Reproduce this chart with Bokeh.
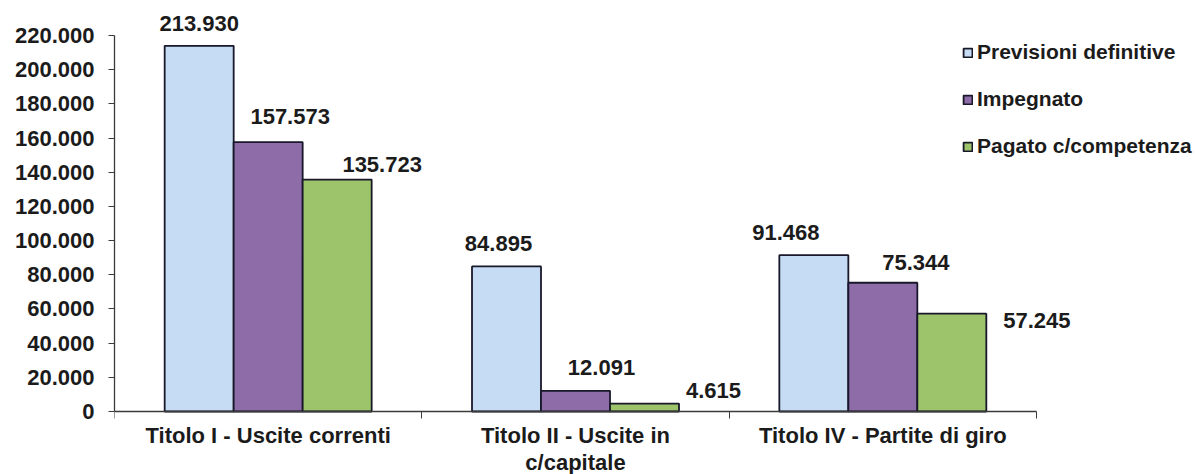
from bokeh.plotting import figure
from bokeh.models import Range1d, FixedTicker, Label, Legend, LegendItem
from bokeh.embed import file_html
from bokeh.resources import INLINE

categories = ["Titolo I - Uscite correnti", "Titolo II - Uscite in\nc/capitale", "Titolo IV - Partite di giro"]
series_names = ["Previsioni definitive", "Impegnato", "Pagato c/competenza"]
previsioni = [213930, 84895, 91468]
impegnato = [157573, 12091, 75344]
pagato = [135723, 4615, 57245]
y_ticks = list(range(0, 220001, 20000))

colors = ["#C6DCF5", "#8D6CA7", "#9DC46B"]
FONT = "Liberation Sans"
TXT = "#1b1b1b"
AX = "#3a3a3a"

# label offsets (px) relative to bar top centre: [series][category]
label_dx = [[0, -8, -28], [22, 26, 33], [45, 69, 85]]
label_dy = [[22, 23, 23], [26, 23, 20], [15, 13, -7]]

def fmt(v):
    return f"{v:,}".replace(",", ".")

# geometry (px)
W, H = 1198, 474
LEFT = 114          # y axis position
X_AXIS_END = 1036   # right end of category axis
ZERO_Y = 411        # baseline pixel from top
TOP_Y = 35          # pixel of y max tick
YMAX = y_ticks[-1]
ncat = len(categories)

upp = YMAX / (ZERO_Y - TOP_Y)
y_start = -(H - ZERO_Y) * upp
y_end = YMAX + TOP_Y * upp
ppx = (X_AXIS_END - LEFT) / ncat
x_end = (W - LEFT) / ppx

p = figure(width=W, height=H, output_backend="svg", toolbar_location=None,
           x_range=Range1d(0, x_end), y_range=Range1d(y_start, y_end),
           min_border_left=LEFT, min_border_right=0, min_border_top=0, min_border_bottom=0)
p.outline_line_color = None
p.xgrid.visible = False
p.ygrid.visible = False
p.background_fill_color = "white"
p.border_fill_color = "white"

bw = 0.2245
offsets = [-bw, 0.0, bw]
series = [previsioni, impegnato, pagato]
renderers = []
for si, vals in enumerate(series):
    xs = [i + 0.5 + offsets[si] for i in range(ncat)]
    r = p.vbar(x=xs, top=vals, width=bw, bottom=0, fill_color=colors[si],
               line_color="#18182a", line_width=1.8)
    renderers.append(r)
    for ci, v in enumerate(vals):
        p.add_layout(Label(x=xs[ci], y=v, text=fmt(v), x_offset=label_dx[si][ci],
                           y_offset=label_dy[si][ci], text_align="center", text_baseline="middle",
                           text_font=FONT, text_font_style="bold", text_font_size="22px",
                           text_color=TXT))

# y axis
p.yaxis.ticker = FixedTicker(ticks=y_ticks)
p.yaxis.bounds = (0, YMAX)
p.yaxis.major_label_overrides = {v: fmt(v) for v in y_ticks}
p.yaxis.major_label_text_font = FONT
p.yaxis.major_label_text_font_style = "bold"
p.yaxis.major_label_text_font_size = "22px"
p.yaxis.major_label_text_color = TXT
p.yaxis.major_label_standoff = 14
p.yaxis.axis_line_color = AX
p.yaxis.axis_line_width = 1.3
p.yaxis.major_tick_line_color = AX
p.yaxis.major_tick_in = 0
p.yaxis.major_tick_out = 6
p.yaxis.minor_tick_line_color = None

# x axis at y = 0, ticks at category boundaries, labels at centres
cat_centres = [i + 0.5 for i in range(ncat)]
p.xaxis.fixed_location = 0
p.xaxis.bounds = (0, ncat)
p.xaxis.ticker = FixedTicker(ticks=cat_centres, minor_ticks=list(range(ncat + 1)))
p.xaxis.major_label_overrides = {c: lab for c, lab in zip(cat_centres, categories)}
p.xaxis.major_label_text_font = FONT
p.xaxis.major_label_text_font_style = "bold"
p.xaxis.major_label_text_font_size = "22px"
p.xaxis.major_label_text_color = TXT
p.xaxis.major_label_text_line_height = 1.1
p.xaxis.major_label_standoff = 4
p.xaxis.axis_line_color = AX
p.xaxis.axis_line_width = 1.3
p.xaxis.minor_tick_line_color = AX
p.xaxis.minor_tick_in = 0
p.xaxis.minor_tick_out = 7
p.xaxis.major_tick_line_color = None
p.xaxis.major_tick_out = 0
p.xaxis.major_tick_in = 0

legend = Legend(items=[LegendItem(label=n, renderers=[r]) for n, r in zip(series_names, renderers)],
                location=(962 - LEFT, H - 158), orientation="vertical",
                label_text_font=FONT, label_text_font_style="bold", label_text_font_size="21px",
                label_text_color=TXT, glyph_width=11, glyph_height=11, label_height=24,
                label_standoff=4, spacing=23, padding=0, margin=0,
                border_line_color=None, background_fill_alpha=0)
p.add_layout(legend, "center")

open("out.html", "w").write(file_html(p, INLINE))
